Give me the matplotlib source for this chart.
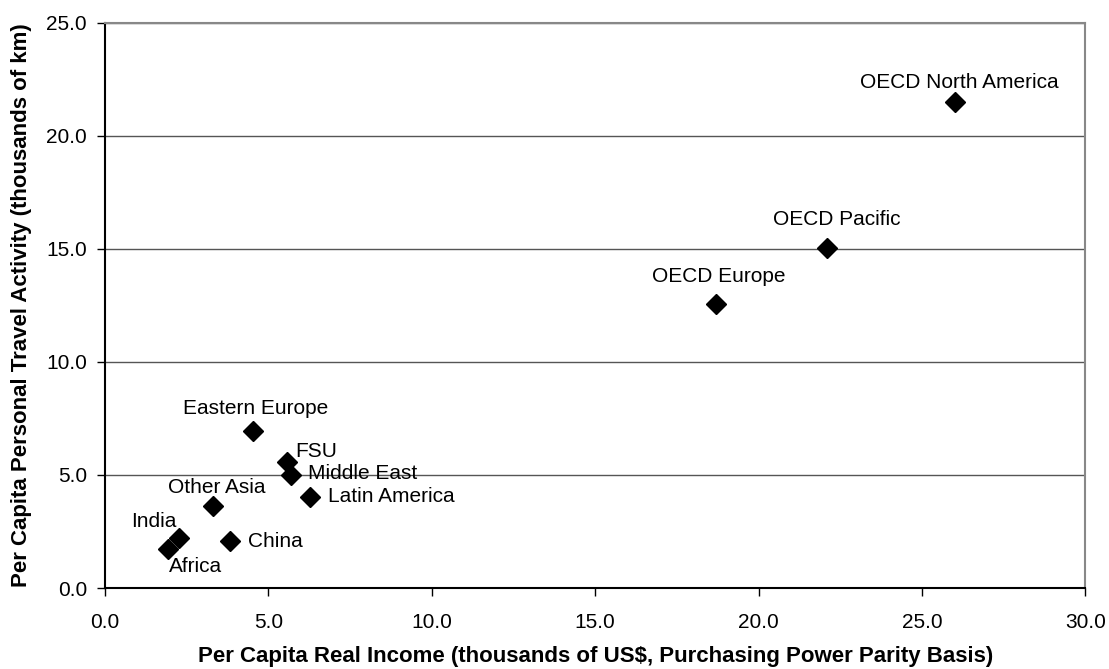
import matplotlib.pyplot as plt

plt.rcParams['font.family'] = ['Liberation Sans', 'DejaVu Sans']

# regions, income (thousands US$ PPP), travel (thousands km)
regions = ['OECD North America', 'OECD Pacific', 'OECD Europe', 'Eastern Europe',
           'FSU', 'Middle East', 'Latin America', 'Other Asia', 'China', 'India', 'Africa']
income = [26.0, 22.1, 18.7, 4.53, 5.57, 5.70, 6.27, 3.30, 3.81, 2.25, 1.92]
travel = [21.5, 15.05, 12.55, 6.96, 5.59, 5.0, 4.04, 3.63, 2.08, 2.2, 1.73]

# label offsets in points (dx, dy, ha)
offsets = {
    'OECD North America': (3, 14, 'center'),
    'OECD Pacific': (7, 20, 'center'),
    'OECD Europe': (2, 20, 'center'),
    'Eastern Europe': (2, 16, 'center'),
    'FSU': (6, 7, 'left'),
    'Middle East': (12, 1, 'left'),
    'Latin America': (13, 0, 'left'),
    'Other Asia': (3, 13, 'center'),
    'China': (13, 0, 'left'),
    'India': (-18, 12, 'center'),
    'Africa': (20, -13, 'center'),
}

fig = plt.figure(figsize=(11.09, 6.69), dpi=100)
ax = fig.add_axes([0.0947, 0.121, 0.884, 0.845])

ax.plot(income, travel, 'D', color='black', markersize=10, zorder=3, clip_on=False)

for name, x, y in zip(regions, income, travel):
    dx, dy, ha = offsets[name]
    ax.annotate(name, (x, y), xytext=(dx, dy), textcoords='offset points',
                ha=ha, va='center', fontsize=15)

ax.set_xlim(0, 30)
ax.set_ylim(0, 25)
ax.set_xticks([0, 5, 10, 15, 20, 25, 30])
ax.set_yticks([0, 5, 10, 15, 20, 25])
ax.set_xticklabels(['%.1f' % v for v in ax.get_xticks()], fontsize=15)
ax.set_yticklabels(['%.1f' % v for v in ax.get_yticks()], fontsize=15)
ax.tick_params(direction='out', length=6, width=1, color='black')
ax.tick_params(axis='x', pad=12)
ax.tick_params(axis='y', pad=7)

ax.grid(axis='y', color='#555555', linewidth=1)
ax.set_axisbelow(True)

for side in ['top', 'right']:
    ax.spines[side].set_color('#888888')
    ax.spines[side].set_linewidth(1.5)
for side in ['left', 'bottom']:
    ax.spines[side].set_color('black')
    ax.spines[side].set_linewidth(1.5)

ax.set_xlabel('Per Capita Real Income (thousands of US$, Purchasing Power Parity Basis)',
              fontsize=16, fontweight='bold', labelpad=10)
ax.set_ylabel('Per Capita Personal Travel Activity (thousands of km)',
              fontsize=16, fontweight='bold', labelpad=10)

fig.savefig('out.png', dpi=100)
